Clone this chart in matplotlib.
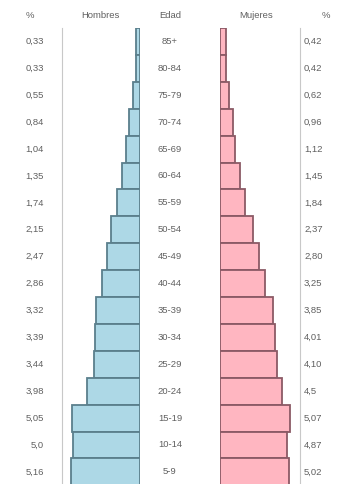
import matplotlib
matplotlib.use("Agg")
import matplotlib.pyplot as plt
import matplotlib.transforms as mtransforms

# datos de la pirámide (de arriba a abajo)
edades = ["85+", "80-84", "75-79", "70-74", "65-69", "60-64", "55-59", "50-54",
          "45-49", "40-44", "35-39", "30-34", "25-29", "20-24", "15-19", "10-14", "5-9"]
hombres = [0.33, 0.33, 0.55, 0.84, 1.04, 1.35, 1.74, 2.15, 2.47, 2.86, 3.32,
           3.39, 3.44, 3.98, 5.05, 5.0, 5.16]
mujeres = [0.42, 0.42, 0.62, 0.96, 1.12, 1.45, 1.84, 2.37, 2.80, 3.25, 3.85,
           4.01, 4.10, 4.5, 5.07, 4.87, 5.02]
etiq_h = ["0,33", "0,33", "0,55", "0,84", "1,04", "1,35", "1,74", "2,15", "2,47",
          "2,86", "3,32", "3,39", "3,44", "3,98", "5,05", "5,0", "5,16"]
etiq_m = ["0,42", "0,42", "0,62", "0,96", "1,12", "1,45", "1,84", "2,37", "2,80",
          "3,25", "3,85", "4,01", "4,10", "4,5", "5,07", "4,87", "5,02"]

plt.rcParams['font.family'] = ['Liberation Sans', 'DejaVu Sans']

W, H = 343, 484
fig = plt.figure(figsize=(W / 100, H / 100), dpi=100)
fig.patch.set_facecolor("white")

top = 1 - 28 / H
ax_h = fig.add_axes([62 / W, 0, (140 - 62) / W, top])
ax_m = fig.add_axes([220 / W, 0, (300 - 220) / W, top])

n = len(edades)
filas = list(range(n))
paso = 26.9
ylim = (-0.5 + (484 - 28) / paso, -0.5)  # filas hacia abajo

ax_h.barh(filas, hombres, height=1.0, color="#add8e6", edgecolor="#5b7f8c", linewidth=1.3)
ax_h.set_xlim(78 / 13.4, 0)
ax_m.barh(filas, mujeres, height=1.0, color="#ffb6c1", edgecolor="#8b5a66", linewidth=1.3)
ax_m.set_xlim(0, 80 / 13.8)

for ax in (ax_h, ax_m):
    ax.set_ylim(*ylim)
    ax.set_xticks([])
    ax.set_yticks([])
    for s in ax.spines.values():
        s.set_visible(False)
    ax.patch.set_alpha(0)
ax_h.spines["left"].set_visible(True)
ax_h.spines["left"].set_color("#c8c8c8")
ax_m.spines["right"].set_visible(True)
ax_m.spines["right"].set_color("#c8c8c8")

tr = mtransforms.blended_transform_factory(fig.transFigure, ax_h.transData)
txt = dict(fontsize=6.8, color="#606060", va="center", transform=tr)
for i in filas:
    fig.text(44 / W, i, etiq_h[i], ha="right", **txt)
    fig.text(170 / W, i, edades[i], ha="center", **txt)
    fig.text(304 / W, i, etiq_m[i], ha="left", **txt)

y_cab = 1 - 15 / H
cab = dict(fontsize=6.8, color="#606060", va="center")
fig.text(30 / W, y_cab, "%", ha="center", **cab)
fig.text(100 / W, y_cab, "Hombres", ha="center", **cab)
fig.text(170 / W, y_cab, "Edad", ha="center", **cab)
fig.text(256 / W, y_cab, "Mujeres", ha="center", **cab)
fig.text(326 / W, y_cab, "%", ha="center", **cab)

fig.savefig("out.png", dpi=100)
